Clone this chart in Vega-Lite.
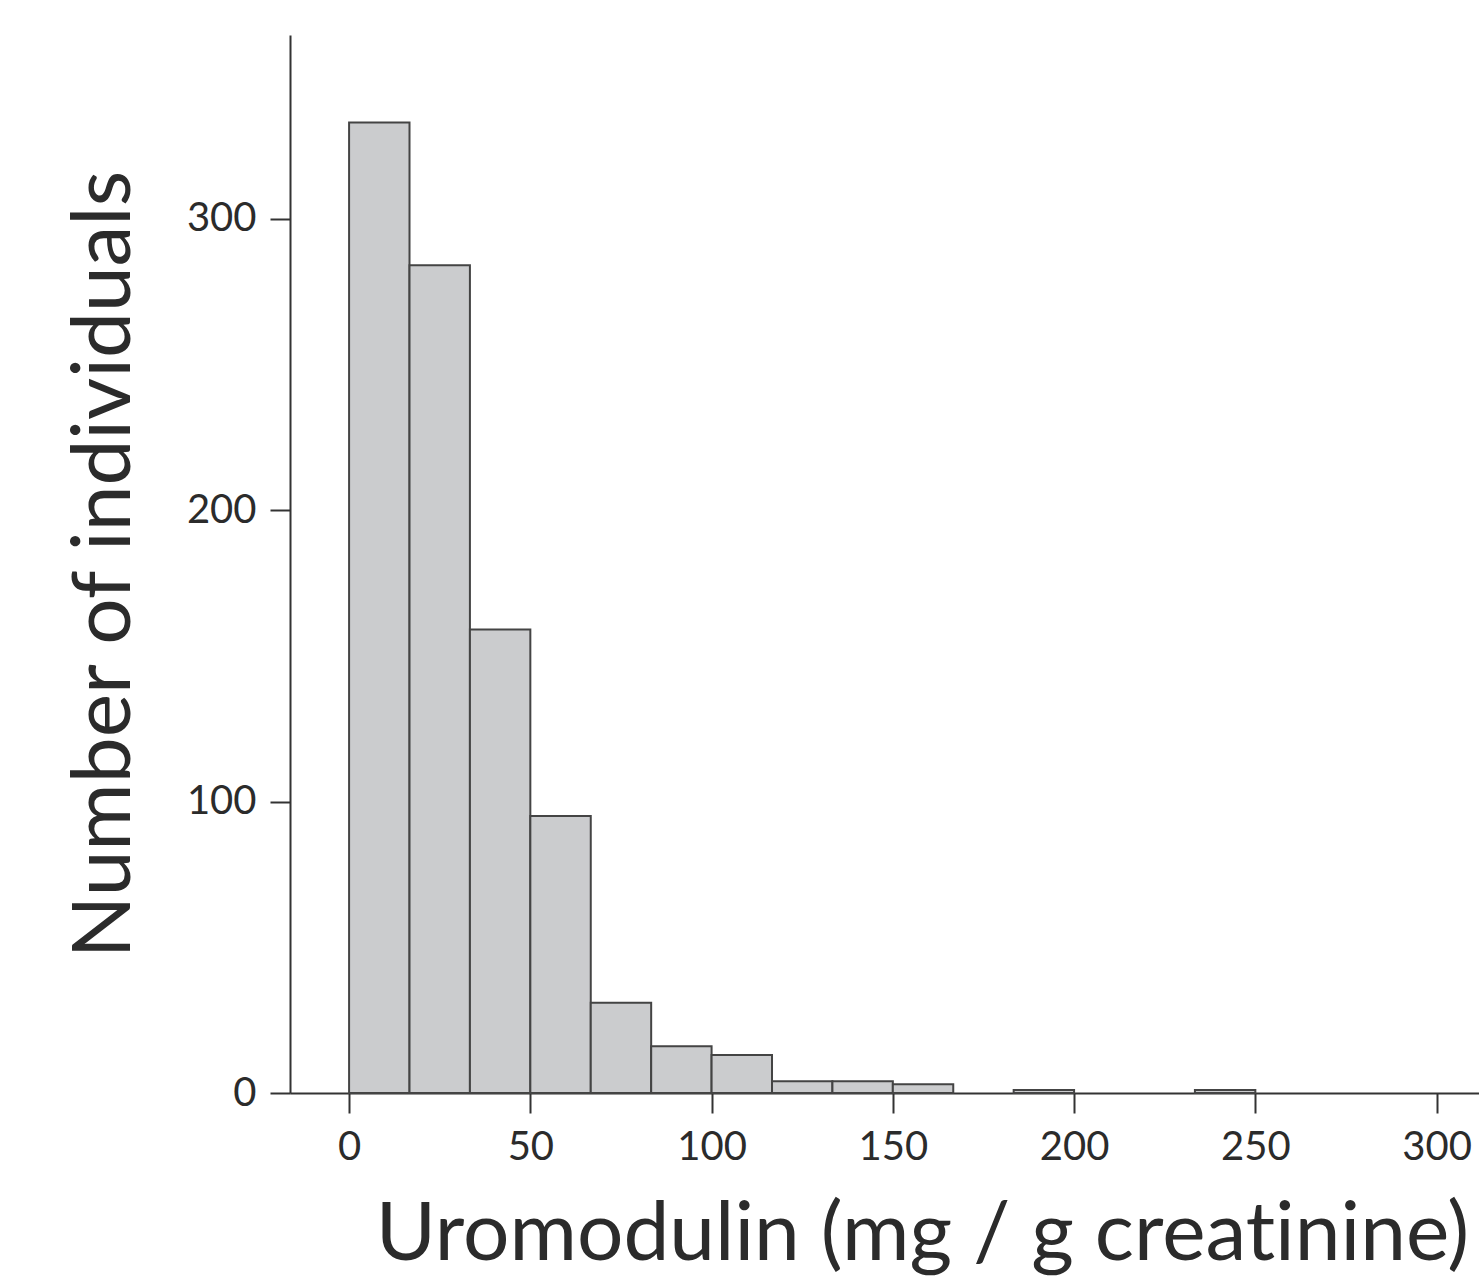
{
  "$schema": "https://vega.github.io/schema/vega-lite/v6.json",
  "autosize": "none",
  "width": 1189,
  "height": 1058,
  "padding": {"left": 290, "top": 35, "right": 0, "bottom": 186},
  "background": "white",
  "config": {
    "view": {"stroke": null},
    "font": "Lato",
    "axis": {
      "domainColor": "#333333",
      "domainWidth": 2,
      "tickColor": "#333333",
      "tickWidth": 2,
      "tickSize": 20,
      "grid": false,
      "labelFont": "Lato",
      "labelFontSize": 40,
      "labelColor": "#2b2b2b",
      "titleFont": "Lato",
      "titleFontSize": 82,
      "titleFontWeight": "normal",
      "titleColor": "#2b2b2b"
    }
  },
  "data": {
    "values": [
      {"bin_start": 0, "bin_end": 16.667, "count": 333},
      {"bin_start": 16.667, "bin_end": 33.333, "count": 284},
      {"bin_start": 33.333, "bin_end": 50, "count": 159},
      {"bin_start": 50, "bin_end": 66.667, "count": 95},
      {"bin_start": 66.667, "bin_end": 83.333, "count": 31},
      {"bin_start": 83.333, "bin_end": 100, "count": 16},
      {"bin_start": 100, "bin_end": 116.667, "count": 13},
      {"bin_start": 116.667, "bin_end": 133.333, "count": 4},
      {"bin_start": 133.333, "bin_end": 150, "count": 4},
      {"bin_start": 150, "bin_end": 166.667, "count": 3},
      {"bin_start": 183.333, "bin_end": 200, "count": 1},
      {"bin_start": 233.333, "bin_end": 250, "count": 1}
    ]
  },
  "mark": {"type": "rect", "fill": "#cbccce", "stroke": "#444444", "strokeWidth": 2},
  "encoding": {
    "x": {
      "field": "bin_start",
      "type": "quantitative",
      "scale": {"domain": [-16.3, 311.7], "nice": false, "zero": false},
      "axis": {
        "values": [0, 50, 100, 150, 200, 250, 300],
        "title": "Uromodulin (mg / g creat\u200cinine)",
        "labelPadding": 14,
        "titlePadding": 27,
        "titleX": 632
      }
    },
    "x2": {"field": "bin_end"},
    "y": {
      "field": "count",
      "type": "quantitative",
      "scale": {"domain": [0, 363], "nice": false},
      "axis": {
        "values": [0, 100, 200, 300],
        "title": "Number of individuals",
        "labelPadding": 14,
        "titlePadding": 40
      }
    },
    "y2": {"datum": 0}
  }
}
